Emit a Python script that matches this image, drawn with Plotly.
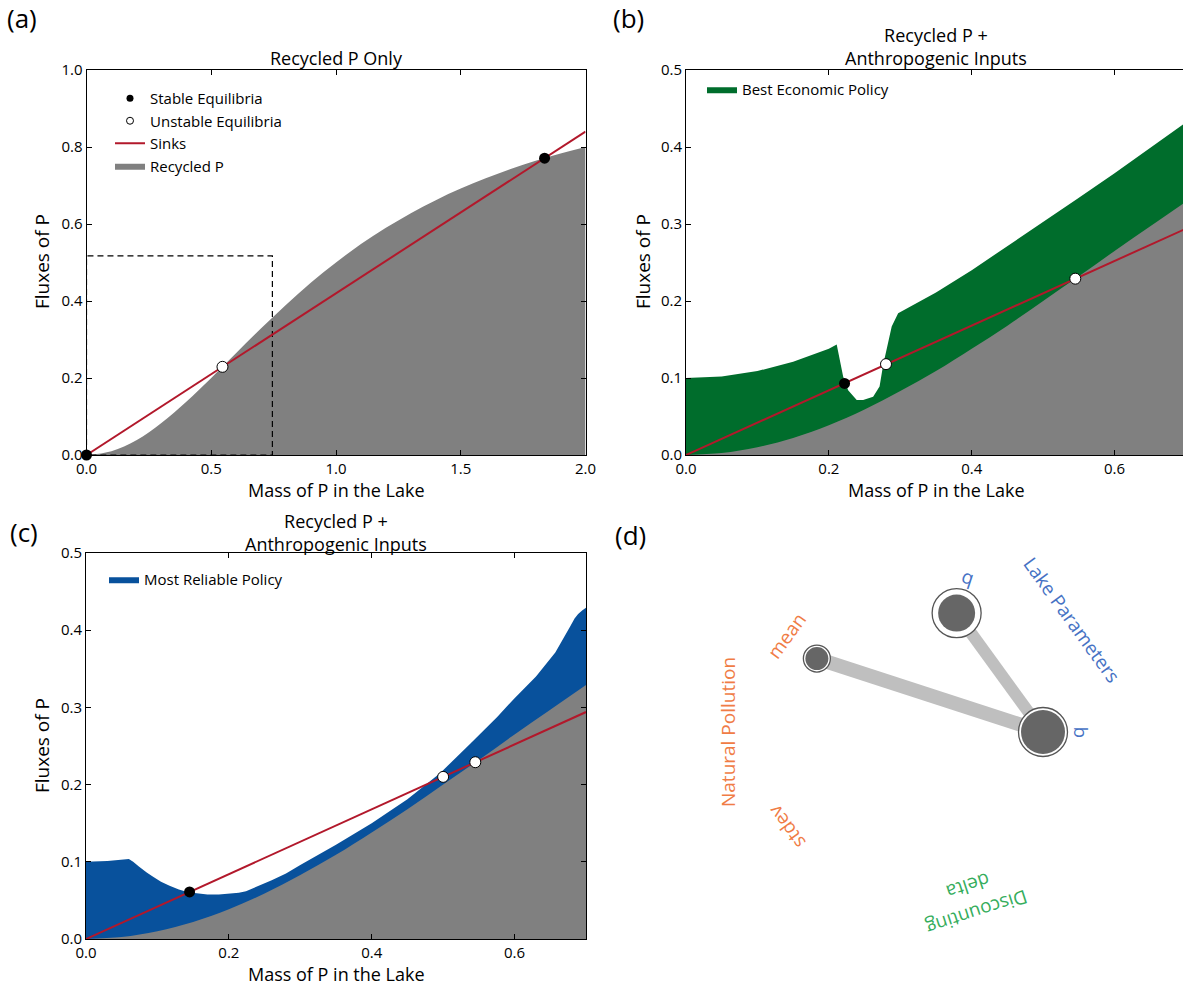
import plotly.graph_objects as go
import math

W, H = 1183, 986

# ---------------- data ----------------
# Panel (a): recycled P over full range
mass_a = [0.0, 0.1, 0.2, 0.3, 0.4, 0.5, 0.6, 0.7, 0.8, 0.9, 1.0,
          1.1, 1.2, 1.3, 1.4, 1.5, 1.6, 1.7, 1.8, 1.9, 2.0]
recycled_a = [0.0, 0.010, 0.038, 0.083, 0.138, 0.200, 0.265, 0.329, 0.390, 0.448, 0.500,
              0.548, 0.590, 0.628, 0.662, 0.692, 0.719, 0.743, 0.764, 0.783, 0.800]
sink_mass_a = [0.0, 2.0]
sink_flux_a = [0.0, 0.84]
stable_a_x = [0.0, 1.836]
stable_a_y = [0.0, 0.771]
unstable_a_x = [0.545]
unstable_a_y = [0.229]
zoom_box_x = [0.0, 0.0, 0.745, 0.745, 0.0]
zoom_box_y = [0.0, 0.517, 0.517, 0.0, 0.0]

# Panels (b), (c): recycled P in the zoomed range
mass_z = [0.0, 0.05, 0.1, 0.15, 0.2, 0.25, 0.3, 0.35, 0.4, 0.45, 0.5, 0.55, 0.6, 0.65, 0.7]
recycled_z = [0.0, 0.0025, 0.010, 0.022, 0.0385, 0.059, 0.083, 0.109, 0.138, 0.168,
              0.200, 0.232, 0.265, 0.297, 0.329]
sink_mass_z = [0.0, 0.7]
sink_flux_z = [0.0, 0.294]

# (b) upper edge of the Best Economic Policy band
econ_x = [0.0, 0.05, 0.1, 0.15, 0.2, 0.211, 0.220, 0.227, 0.239, 0.248, 0.262, 0.271,
          0.276, 0.283, 0.288, 0.297, 0.35, 0.4, 0.45, 0.5, 0.55, 0.6, 0.65, 0.7]
econ_y = [0.100, 0.102, 0.109, 0.121, 0.138, 0.1435, 0.102, 0.084, 0.0715, 0.0715, 0.0757, 0.089,
          0.117, 0.149, 0.167, 0.184, 0.211, 0.240, 0.271, 0.302, 0.334, 0.366, 0.399, 0.432]
stable_b_x = [0.222]
stable_b_y = [0.093]
unstable_b_x = [0.28, 0.545]
unstable_b_y = [0.118, 0.229]

# (c) upper edge of the Most Reliable Policy band
rel_x = [0.0, 0.03, 0.06, 0.066, 0.074, 0.085, 0.095, 0.105, 0.117, 0.13, 0.143, 0.157,
         0.17, 0.186, 0.202, 0.214, 0.224, 0.232, 0.24, 0.26, 0.28, 0.3, 0.35, 0.4,
         0.45, 0.496, 0.539, 0.576, 0.6, 0.63, 0.657, 0.668, 0.678, 0.684, 0.689, 0.695, 0.7]
rel_y = [0.100, 0.101, 0.1035, 0.100, 0.094, 0.086, 0.080, 0.074, 0.069, 0.064, 0.0605, 0.0585,
         0.0575, 0.0575, 0.0585, 0.060, 0.062, 0.065, 0.068, 0.076, 0.085, 0.096, 0.122, 0.150,
         0.181, 0.215, 0.254, 0.288, 0.312, 0.340, 0.371, 0.388, 0.405, 0.415, 0.421, 0.426, 0.429]
stable_c_x = [0.145]
stable_c_y = [0.061]
unstable_c_x = [0.50, 0.545]
unstable_c_y = [0.210, 0.229]

# (d) sensitivity indices
params = ["b", "q", "mean", "stdev", "delta"]
param_angle = [0, 72, 144, 216, 288]
first_order = [0.44, 0.37, 0.23, 0.0, 0.0]
total_order = [0.49, 0.49, 0.27, 0.0, 0.0]
second_pairs = [("b", "mean"), ("b", "q")]
second_order = [0.14, 0.12]
groups = ["Lake Parameters", "Natural Pollution", "Discounting"]
group_members = [["b", "q"], ["mean", "stdev"], ["delta"]]
group_colors = ["#4672c4", "#f07c45", "#35ad5c"]

# ---------------- styling ----------------
FONT = "Open Sans"
RED = "#b2182b"
GRAY = "#808080"
GREEN = "#006d2c"
BLUE = "#08519c"


def px_x(p):
    return p / W


def px_y(p):
    return 1 - p / H


fig = go.Figure()

# ---- Panel (a)
fig.add_trace(go.Scatter(x=mass_a, y=recycled_a, mode="lines", fill="tozeroy",
                         fillcolor=GRAY, line=dict(width=0, color=GRAY, shape="spline"),
                         name="Recycled P", legend="legend", legendrank=4,
                         xaxis="x", yaxis="y"))
fig.add_trace(go.Scatter(x=zoom_box_x, y=zoom_box_y, mode="lines",
                         line=dict(color="black", width=1.2, dash="6px,4px"),
                         showlegend=False, xaxis="x", yaxis="y", cliponaxis=False))
fig.add_trace(go.Scatter(x=sink_mass_a, y=sink_flux_a, mode="lines",
                         line=dict(color=RED, width=2), name="Sinks",
                         legend="legend", legendrank=3, xaxis="x", yaxis="y"))
fig.add_trace(go.Scatter(x=stable_a_x, y=stable_a_y, mode="markers",
                         marker=dict(color="black", size=11, line=dict(width=0), opacity=1),
                         showlegend=False, cliponaxis=False, xaxis="x", yaxis="y"))
fig.add_trace(go.Scatter(x=unstable_a_x, y=unstable_a_y, mode="markers",
                         marker=dict(color="white", size=11, opacity=1,
                                     line=dict(width=1, color="black")),
                         showlegend=False, cliponaxis=False, xaxis="x", yaxis="y"))
# legend keys for equilibria
fig.add_trace(go.Scatter(x=[None], y=[None], mode="markers",
                         marker=dict(color="black", size=7),
                         name="Stable Equilibria", legend="legend", legendrank=1,
                         xaxis="x", yaxis="y"))
fig.add_trace(go.Scatter(x=[None], y=[None], mode="markers",
                         marker=dict(color="white", size=7, line=dict(width=1, color="black")),
                         name="Unstable Equilibria", legend="legend", legendrank=2,
                         xaxis="x", yaxis="y"))

# ---- Panels (b) and (c)
for xa, ya, ux, uy, col, nm, lg, sx, sy, unx, uny in [
        ("x2", "y2", econ_x, econ_y, GREEN, "Best Economic Policy", "legend2",
         stable_b_x, stable_b_y, unstable_b_x, unstable_b_y),
        ("x3", "y3", rel_x, rel_y, BLUE, "Most Reliable Policy", "legend3",
         stable_c_x, stable_c_y, unstable_c_x, unstable_c_y)]:
    fig.add_trace(go.Scatter(x=ux, y=uy, mode="lines", fill="tozeroy", fillcolor=col,
                             line=dict(width=0, color=col),
                             name=nm, legend=lg, xaxis=xa, yaxis=ya))
    fig.add_trace(go.Scatter(x=mass_z, y=recycled_z, mode="lines", fill="tozeroy",
                             fillcolor=GRAY, line=dict(width=0, color=GRAY, shape="spline"),
                             showlegend=False, xaxis=xa, yaxis=ya))
    fig.add_trace(go.Scatter(x=sink_mass_z, y=sink_flux_z, mode="lines",
                             line=dict(color=RED, width=2), showlegend=False,
                             xaxis=xa, yaxis=ya))
    fig.add_trace(go.Scatter(x=sx, y=sy, mode="markers",
                             marker=dict(color="black", size=11, line=dict(width=0), opacity=1),
                             showlegend=False, cliponaxis=False, xaxis=xa, yaxis=ya))
    fig.add_trace(go.Scatter(x=unx, y=uny, mode="markers",
                             marker=dict(color="white", size=11, opacity=1,
                                         line=dict(width=1, color="black")),
                             showlegend=False, cliponaxis=False, xaxis=xa, yaxis=ya))

# ---- Panel (d): radial sensitivity plot
pos = {}
for p, a in zip(params, param_angle):
    t = math.radians(a)
    pos[p] = (math.cos(t), math.sin(t))

for (p1, p2), s2 in zip(second_pairs, second_order):
    fig.add_trace(go.Scatter(x=[pos[p1][0], pos[p2][0]], y=[pos[p1][1], pos[p2][1]],
                             mode="lines", line=dict(color="#bfbfbf", width=s2 * 100),
                             showlegend=False, xaxis="x4", yaxis="y4"))

node_x = [pos[p][0] for p, st in zip(params, total_order) if st > 0]
node_y = [pos[p][1] for p, st in zip(params, total_order) if st > 0]
st_sizes = [st * 100 for st in total_order if st > 0]
s1_sizes = [s1 * 100 for s1, st in zip(first_order, total_order) if st > 0]
fig.add_trace(go.Scatter(x=node_x, y=node_y, mode="markers",
                         marker=dict(size=st_sizes, color="white", opacity=1,
                                     line=dict(color="#555555", width=1.3)),
                         showlegend=False, xaxis="x4", yaxis="y4"))
fig.add_trace(go.Scatter(x=node_x, y=node_y, mode="markers",
                         marker=dict(size=s1_sizes, color="#666666", opacity=1,
                                     line=dict(width=0)),
                         showlegend=False, xaxis="x4", yaxis="y4"))


def norm_angle(a):
    while a > 180:
        a -= 360
    while a <= -180:
        a += 360
    return a


annotations = []
param_color = {}
for g, members, c in zip(groups, group_members, group_colors):
    for m in members:
        param_color[m] = c
for p, a in zip(params, param_angle):
    t = math.radians(a)
    annotations.append(dict(x=1.3 * math.cos(t), y=1.3 * math.sin(t), xref="x4", yref="y4",
                            text=p, showarrow=False, textangle=norm_angle(90 - a),
                            xanchor="center", yanchor="middle",
                            font=dict(family=FONT, size=19, color=param_color[p])))
for g, members, c in zip(groups, group_members, group_colors):
    angs = [param_angle[params.index(m)] for m in members]
    a = sum(angs) / len(angs)
    t = math.radians(a)
    annotations.append(dict(x=1.52 * math.cos(t), y=1.52 * math.sin(t), xref="x4", yref="y4",
                            text=g, showarrow=False, textangle=norm_angle(90 - a),
                            xanchor="center", yanchor="middle",
                            font=dict(family=FONT, size=19, color=c)))

# panel letters
for lbl, x, y in [("(a)", 22, 18), ("(b)", 628, 18), ("(c)", 24, 532), ("(d)", 630, 535)]:
    annotations.append(dict(x=px_x(x), y=px_y(y), xref="paper", yref="paper", text=lbl,
                            showarrow=False, xanchor="center", yanchor="middle",
                            font=dict(family=FONT, size=26, color="black")))

# titles
for txt, x, y in [("Recycled P Only", 336, 58),
                  ("Recycled P +<br>Anthropogenic Inputs", 936, 46),
                  ("Recycled P +<br>Anthropogenic Inputs", 336, 532)]:
    annotations.append(dict(x=px_x(x), y=px_y(y), xref="paper", yref="paper", text=txt,
                            showarrow=False, xanchor="center", yanchor="middle",
                            font=dict(family=FONT, size=18, color="black")))

# axis titles
for x, y in [(336, 490), (936, 490), (336, 974)]:
    annotations.append(dict(x=px_x(x), y=px_y(y), xref="paper", yref="paper",
                            text="Mass of P in the Lake", showarrow=False,
                            xanchor="center", yanchor="middle",
                            font=dict(family=FONT, size=18, color="black")))
for x, y in [(42, 262), (643, 262), (42, 746)]:
    annotations.append(dict(x=px_x(x), y=px_y(y), xref="paper", yref="paper",
                            text="Fluxes of P", showarrow=False, textangle=-90,
                            xanchor="center", yanchor="middle",
                            font=dict(family=FONT, size=19, color="black")))


def axis(domain, rng, dtick, anchor, mirror="ticks"):
    return dict(domain=domain, range=rng, dtick=dtick, tick0=0, anchor=anchor,
                showgrid=False, zeroline=False, showline=True, linecolor="black",
                linewidth=1, mirror=mirror, ticks="inside", ticklen=5, tickwidth=1,
                tickcolor="black", tickformat=".1f", automargin=False,
                tickfont=dict(family=FONT, size=15, color="black"), fixedrange=True)


xd_a = [px_x(86.5), px_x(585.5)]
yd_ab = [px_y(455), px_y(70)]
xd_b = [px_x(686), 1.0]
xd_c = [px_x(86), px_x(586)]
yd_c = [px_y(939), px_y(553)]
xd_d = [px_x(668), px_x(1168)]
yd_d = [px_y(982), px_y(482)]

fig.update_layout(
    width=W, height=H, margin=dict(l=0, r=0, t=0, b=0, autoexpand=False),
    paper_bgcolor="white", plot_bgcolor="white",
    font=dict(family=FONT, size=15, color="black"),
    xaxis=axis(xd_a, [0, 2.0], 0.5, "y"),
    yaxis=axis(yd_ab, [0, 1.0], 0.2, "x"),
    xaxis2=axis(xd_b, [0, 0.7 * (1183 - 686) / 500], 0.2, "y2"),
    yaxis2=axis(yd_ab, [0, 0.5], 0.1, "x2", mirror=False),
    xaxis3=axis(xd_c, [0, 0.7], 0.2, "y3"),
    yaxis3=axis(yd_c, [0, 0.5], 0.1, "x3"),
    xaxis4=dict(domain=xd_d, range=[-2, 2], visible=False, anchor="y4",
                fixedrange=True, automargin=False),
    yaxis4=dict(domain=yd_d, range=[-2, 2], visible=False, anchor="x4",
                fixedrange=True, automargin=False),
    legend=dict(x=px_x(110), y=px_y(82), xanchor="left", yanchor="top",
                bgcolor="rgba(0,0,0,0)", font=dict(family=FONT, size=15),
                tracegroupgap=0, itemsizing="trace"),
    legend2=dict(x=px_x(702), y=px_y(73), xanchor="left", yanchor="top",
                 bgcolor="rgba(0,0,0,0)", font=dict(family=FONT, size=15)),
    legend3=dict(x=px_x(104), y=px_y(563), xanchor="left", yanchor="top",
                 bgcolor="rgba(0,0,0,0)", font=dict(family=FONT, size=15)),
    annotations=annotations,
    showlegend=True,
)

fig.write_html("out.html")
